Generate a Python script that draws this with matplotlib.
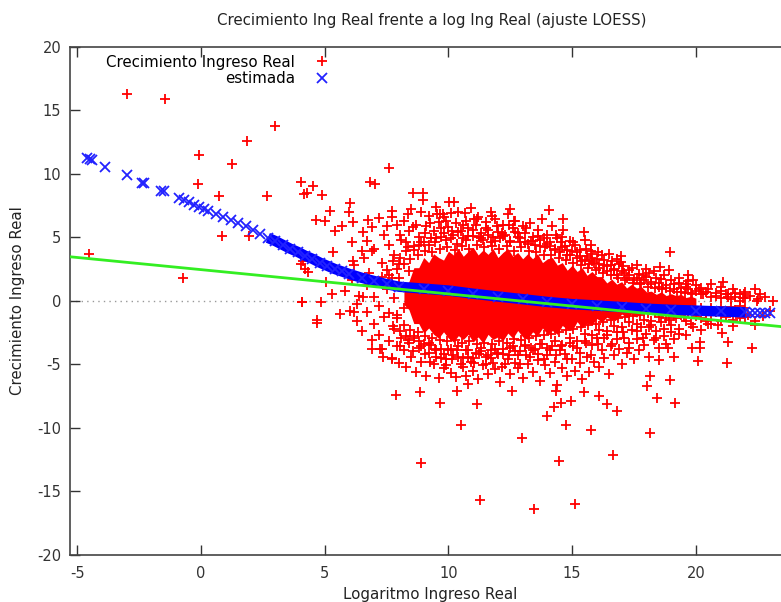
import matplotlib.pyplot as plt
import numpy as np

# observaciones aisladas (lejos de la nube)
red_far = [(-3.0, 16.3), (-1.46, 15.85), (3.0, 13.75), (1.87, 12.55), (-0.07, 11.45), (1.27, 10.75),
           (7.61, 10.45), (-0.11, 9.2), (4.03, 9.35), (4.15, 8.4), (4.28, 8.5), (4.54, 9.0), (0.74, 8.25),
           (2.68, 8.25), (4.9, 8.3), (6.83, 9.35), (7.05, 9.2), (6.02, 7.7), (5.97, 6.95), (5.21, 7.1),
           (4.65, 6.35), (5.02, 6.3), (0.85, 5.1), (1.95, 5.1), (-4.54, 3.65), (-0.74, 1.76), (4.11, 3.15),
           (4.06, 2.9), (4.34, 2.28), (4.08, -0.08), (4.84, -0.1), (4.68, -1.52), (4.69, -1.73), (5.62, -1.05),
           (7.88, -7.43), (6.91, -3.83), (7.23, -3.83), (7.37, -4.46), (7.7, -4.6), (8.85, -7.17), (9.66, -8.03),
           (10.5, -9.76), (8.9, -12.76), (11.28, -15.67), (12.96, -10.84), (13.46, -16.43), (14.46, -12.62),
           (15.12, -16.04), (14.75, -9.76), (13.97, -9.06), (14.27, -8.35), (14.56, -8.03), (14.94, -7.87),
           (11.17, -8.14), (10.33, -7.09), (10.8, -6.56), (12.56, -7.09), (14.35, -7.09), (15.76, -10.16),
           (16.65, -12.18), (18.15, -10.45), (19.16, -8.06), (18.43, -7.66), (16.8, -8.66), (16.42, -8.14),
           (16.09, -7.53), (15.48, -7.17), (18.01, -6.69), (18.96, -6.24), (18.15, -5.9), (20.08, -4.78),
           (21.27, -4.88), (22.26, -3.73), (21.05, -2.57), (21.31, -3.23), (20.17, -3.23), (20.17, -3.7),
           (19.83, -3.73), (19.12, -4.46), (18.5, -4.67), (18.86, -3.73), (18.96, 3.81), (19.7, 2.05),
           (19.7, 1.57), (21.11, 1.44), (21.79, 0.53), (21.95, 0.53), (22.6, 0.53), (22.46, 0.0), (21.31, 0.53),
           (20.13, 0.92), (20.5, -1.84), (8.56, 8.45), (8.96, 8.45), (8.96, 7.93), (10.04, 7.74), (10.23, 7.74),
           (12.49, 7.22), (10.67, 6.88), (8.38, 6.82), (9.66, 6.82), (7.71, 6.61), (11.75, 6.66), (12.65, 6.3),
           (11.14, 6.43), (14.08, 7.14), (14.64, 6.43), (14.64, 5.56), (15.48, 5.38), (15.75, 4.41),
           (15.75, 3.94), (16.5, 3.67), (16.96, 3.54), (16.96, 3.02), (18.0, 2.49), (18.55, 2.62), (9.55, 6.82),
           (9.79, 6.82), (5.42, 5.5), (5.69, 5.9), (6.13, 6.17), (6.76, 6.35), (6.56, 5.38), (6.09, 4.6),
           (6.7, 4.72), (6.9, 3.94), (6.5, 3.94), (6.16, 3.15), (5.35, 3.81), (4.2, 2.5), (5.05, 1.44),
           (5.28, 0.53), (6.02, -0.79), (6.29, -0.26), (6.56, 0.26), (4.07, -0.13), (5.8, 0.8), (6.1, 1.6),
           (6.4, 0.4), (6.7, 1.2), (7.0, 0.3), (7.3, 1.9), (6.2, -0.9), (7.5, 0.9), (7.2, -0.4),
           (7.8, 0.2), (8.0, 1.8), (8.2, -0.6), (8.4, 2.3), (7.9, -1.1), (8.3, 0.9)]

# nube por encima del nucleo
red_upper = [(6.2, 2.8), (6.4, 1.9), (6.6, 3.4), (6.8, 2.2), (7.0, 4.1), (7.1, 1.5), (7.3, 3.0), (7.4, 5.2),
             (7.5, 2.4), (7.6, 4.4), (7.7, 1.8), (7.8, 3.6), (7.9, 6.0), (8.0, 2.9), (6.9, 5.8), (7.2, 6.5),
             (7.5, 5.9), (7.7, 7.1), (8.1, 4.8), (8.2, 6.3), (8.3, 3.9), (8.4, 5.5), (8.5, 7.2), (8.6, 4.3),
             (8.7, 6.0), (8.8, 5.0), (8.9, 7.0), (9.0, 4.6), (9.1, 5.9), (9.2, 6.7), (9.3, 4.9), (9.4, 5.5),
             (9.5, 7.4), (9.6, 6.2), (9.7, 5.0), (9.8, 6.6), (9.9, 4.8), (10.0, 5.8), (10.1, 6.9), (10.2, 5.2),
             (10.3, 6.1), (10.4, 7.0), (10.5, 5.5), (10.6, 4.9), (10.7, 6.3), (10.8, 5.7), (10.9, 7.3),
             (11.0, 5.1), (11.1, 6.0), (11.2, 6.6), (11.3, 5.3), (11.4, 4.8), (11.5, 6.2), (11.6, 5.6),
             (11.7, 7.0), (11.8, 5.0), (11.9, 6.4), (12.0, 5.4), (12.1, 4.9), (12.2, 6.0), (12.3, 5.2),
             (12.4, 6.8), (12.5, 4.7), (12.6, 5.7), (12.7, 6.3), (12.8, 5.0), (12.9, 4.6), (13.0, 5.9),
             (13.1, 5.3), (13.2, 4.5), (13.3, 6.1), (13.4, 5.0), (13.5, 4.4), (13.6, 5.6), (13.7, 4.8),
             (13.8, 6.4), (13.9, 4.2), (14.0, 5.2), (14.1, 4.6), (14.2, 5.9), (14.3, 4.1), (14.4, 4.9),
             (14.5, 3.8), (14.6, 5.0), (14.7, 4.3), (14.8, 3.6), (14.9, 4.7), (15.0, 3.9), (15.1, 4.4),
             (15.2, 3.4), (15.3, 4.0), (15.4, 3.1), (15.5, 4.8), (15.6, 3.5), (15.7, 2.9), (15.8, 3.7),
             (15.9, 3.0), (16.0, 3.3), (16.1, 2.6), (16.2, 3.6), (16.3, 2.8), (16.4, 2.3), (16.6, 3.1),
             (16.7, 2.5), (16.8, 2.0), (16.9, 2.9), (17.1, 2.2), (17.2, 1.8), (17.4, 2.6), (17.5, 1.6),
             (17.7, 2.1), (17.8, 1.4), (18.0, 1.9), (18.2, 1.3), (18.3, 2.3), (18.5, 1.1), (18.6, 1.7),
             (18.8, 1.0), (18.9, 2.4), (19.1, 0.9), (19.3, 1.4), (19.4, 0.7), (19.6, 1.1), (19.8, 0.6),
             (20.0, 1.2), (20.3, 0.5), (20.5, 0.9), (20.8, 0.4), (21.0, 0.8), (21.3, 0.3), (21.6, 0.6),
             (21.9, 0.2), (22.2, 0.4), (22.5, 0.1), (22.8, 0.3), (23.1, 0.0),
             (8.05, 5.2), (8.3, 4.6), (8.55, 5.8), (8.8, 4.4), (9.05, 5.3), (9.25, 6.1), (9.45, 4.6), (9.7, 5.7),
             (9.9, 6.3), (10.15, 5.5), (10.35, 4.5), (10.6, 6.0), (10.8, 5.1), (11.05, 6.4), (11.25, 5.0),
             (11.5, 5.7), (11.7, 4.6), (11.95, 5.9), (12.15, 5.3), (12.45, 6.0), (12.7, 5.4), (12.9, 4.9),
             (13.15, 5.7), (13.35, 4.7), (13.6, 5.1), (13.85, 4.9), (14.1, 4.3), (14.35, 5.2), (14.55, 4.6),
             (14.8, 4.0), (15.05, 4.6), (15.3, 3.5), (15.55, 4.1), (15.75, 3.4), (16.05, 3.8), (16.3, 3.2),
             (16.55, 2.8), (16.8, 3.3), (17.05, 2.7), (17.3, 2.4), (17.6, 2.8), (17.85, 2.0), (18.1, 2.2),
             (18.4, 1.8), (18.7, 2.0), (19.0, 1.6), (19.3, 1.8), (19.6, 1.3), (19.9, 1.6), (20.2, 1.0),
             (20.6, 1.3), (21.0, 1.1), (21.5, 0.9), (22.0, 0.7), (22.4, 0.9)]

# borde superior del nucleo
red_edge_top = [(7.6, 2.0), (7.75, 3.1), (7.9, 2.5), (8.05, 3.4), (8.2, 2.9), (8.35, 4.2), (8.45, 3.3),
                (8.6, 4.0), (8.75, 3.6), (8.9, 4.6), (9.05, 3.9), (9.2, 4.4), (9.35, 3.8), (9.5, 4.9),
                (9.65, 4.1), (9.8, 5.3), (9.95, 4.2), (10.1, 4.9), (10.25, 4.0), (10.4, 5.4), (10.55, 4.3),
                (10.7, 4.8), (10.85, 4.1), (11.0, 5.6), (11.15, 4.4), (11.3, 4.9), (11.45, 4.2), (11.6, 5.2),
                (11.75, 4.3), (11.9, 4.7), (12.05, 4.1), (12.2, 5.1), (12.35, 4.3), (12.5, 4.6), (12.65, 3.9),
                (12.8, 5.3), (12.95, 4.2), (13.1, 4.6), (13.25, 3.9), (13.4, 4.7), (13.55, 3.8), (13.7, 4.3),
                (13.85, 3.6), (14.0, 4.5), (14.15, 3.6), (14.3, 4.0), (14.45, 3.4), (14.6, 4.2), (14.75, 3.2),
                (14.9, 3.6), (15.05, 3.0), (15.2, 3.8), (15.35, 2.8), (15.5, 3.2), (15.65, 2.6), (15.8, 3.1),
                (15.95, 2.4), (16.1, 2.9), (16.25, 2.2), (16.4, 2.7), (16.55, 2.0), (16.7, 2.4), (16.85, 1.8),
                (17.0, 2.3), (17.15, 1.6), (17.3, 2.0), (17.45, 1.4), (17.6, 1.8), (17.75, 1.3), (17.9, 1.6),
                (18.05, 1.1), (18.2, 1.5), (18.35, 1.0), (18.5, 1.4), (18.65, 0.9), (18.8, 1.2), (18.95, 0.8),
                (19.1, 1.3), (19.25, 0.7), (19.4, 1.0), (19.55, 0.6), (19.7, 0.9), (19.85, 0.5), (20.0, 0.8),
                (20.2, 0.5), (20.4, 0.7), (20.6, 0.3), (20.8, 0.6), (21.0, 0.2), (21.2, 0.5), (21.4, 0.1),
                (21.6, 0.3), (21.8, 0.0), (22.0, 0.2)]

# borde inferior del nucleo
red_edge_bot = [(7.6, -1.0), (7.75, -2.0), (7.9, -1.4), (8.05, -2.4), (8.2, -1.9), (8.35, -3.1), (8.45, -2.3),
                (8.6, -2.9), (8.75, -2.5), (8.9, -3.6), (9.05, -2.8), (9.2, -3.3), (9.35, -2.9), (9.5, -3.9),
                (9.65, -3.1), (9.8, -4.2), (9.95, -3.2), (10.1, -3.8), (10.25, -3.1), (10.4, -4.4),
                (10.55, -3.3), (10.7, -3.9), (10.85, -3.2), (11.0, -4.5), (11.15, -3.4), (11.3, -4.0),
                (11.45, -3.3), (11.6, -4.3), (11.75, -3.4), (11.9, -3.8), (12.05, -3.2), (12.2, -4.2),
                (12.35, -3.3), (12.5, -3.7), (12.65, -3.0), (12.8, -4.3), (12.95, -3.1), (13.1, -3.6),
                (13.25, -2.9), (13.4, -3.9), (13.55, -2.8), (13.7, -3.4), (13.85, -2.7), (14.0, -3.7),
                (14.15, -2.6), (14.3, -3.2), (14.45, -2.5), (14.6, -3.5), (14.75, -2.3), (14.9, -2.9),
                (15.05, -2.2), (15.2, -3.2), (15.35, -2.1), (15.5, -2.6), (15.65, -1.9), (15.8, -2.7),
                (15.95, -1.8), (16.1, -2.3), (16.25, -1.7), (16.4, -2.4), (16.55, -1.5), (16.7, -2.0),
                (16.85, -1.4), (17.0, -2.1), (17.15, -1.3), (17.3, -1.7), (17.45, -1.2), (17.6, -1.8),
                (17.75, -1.1), (17.9, -1.5), (18.05, -1.0), (18.2, -1.6), (18.35, -0.9), (18.5, -1.3),
                (18.65, -0.9), (18.8, -1.4), (18.95, -0.8), (19.1, -1.2), (19.25, -0.8), (19.4, -1.1),
                (19.55, -0.7), (19.7, -1.0), (19.85, -0.7), (20.0, -1.0), (20.2, -0.6), (20.4, -0.9),
                (20.6, -0.6), (20.8, -0.9), (21.0, -0.5), (21.2, -0.8), (21.4, -0.5), (21.6, -0.7),
                (21.8, -0.4), (22.0, -0.6)]

# nube por debajo del nucleo
red_lower = [(6.3, -1.6), (6.5, -2.4), (6.7, -0.9), (6.9, -3.1), (7.0, -1.8), (7.2, -2.7), (7.3, -3.8),
             (7.4, -1.3), (7.6, -3.2), (7.7, -4.5), (7.8, -2.2), (7.9, -3.6), (8.0, -4.9), (8.1, -2.9),
             (8.2, -3.9), (8.3, -5.2), (8.4, -3.3), (8.5, -4.4), (8.6, -2.8), (8.7, -5.6), (8.8, -3.7),
             (8.9, -4.8), (9.0, -3.4), (9.1, -5.9), (9.2, -4.1), (9.3, -3.5), (9.4, -5.0), (9.5, -4.4),
             (9.6, -6.1), (9.7, -3.8), (9.8, -5.3), (9.9, -4.6), (10.0, -3.9), (10.1, -5.7), (10.2, -4.3),
             (10.3, -6.0), (10.4, -3.6), (10.5, -5.0), (10.6, -4.5), (10.7, -5.9), (10.8, -3.9), (10.9, -4.8),
             (11.0, -5.5), (11.1, -4.1), (11.2, -6.2), (11.3, -3.7), (11.4, -5.1), (11.5, -4.4), (11.6, -5.8),
             (11.7, -3.9), (11.8, -4.9), (11.9, -5.4), (12.0, -4.2), (12.1, -6.4), (12.2, -3.8), (12.3, -5.0),
             (12.4, -4.6), (12.5, -5.8), (12.6, -3.6), (12.7, -4.9), (12.8, -5.3), (12.9, -4.0), (13.0, -6.1),
             (13.1, -3.5), (13.2, -5.0), (13.3, -4.4), (13.4, -5.6), (13.5, -3.8), (13.6, -4.7), (13.7, -6.3),
             (13.8, -3.4), (13.9, -5.1), (14.0, -4.3), (14.1, -5.7), (14.2, -3.6), (14.3, -4.8), (14.4, -6.6),
             (14.5, -3.9), (14.6, -5.3), (14.7, -4.2), (14.8, -5.9), (14.9, -3.3), (15.0, -4.6), (15.1, -5.5),
             (15.2, -3.7), (15.3, -4.9), (15.4, -6.2), (15.5, -3.2), (15.6, -4.4), (15.7, -5.6), (15.8, -3.5),
             (15.9, -4.8), (16.0, -2.9), (16.1, -5.2), (16.2, -3.9), (16.3, -4.5), (16.4, -2.7), (16.5, -5.8),
             (16.6, -3.4), (16.7, -4.3), (16.8, -2.5), (16.9, -3.8), (17.0, -5.0), (17.1, -2.9), (17.2, -4.1),
             (17.3, -3.3), (17.4, -2.3), (17.5, -4.6), (17.6, -3.0), (17.7, -3.9), (17.8, -2.1), (17.9, -3.5),
             (18.0, -2.6), (18.1, -4.4), (18.2, -1.9), (18.3, -3.1), (18.4, -2.4), (18.5, -3.7), (18.6, -1.7),
             (18.7, -2.8), (18.8, -3.4), (18.9, -1.5), (19.0, -2.5), (19.1, -3.0), (19.2, -1.4), (19.3, -2.2),
             (19.5, -1.3), (19.6, -2.7), (19.8, -1.8), (20.0, -1.2), (20.2, -2.3), (20.4, -1.6), (20.6, -1.1),
             (20.9, -1.9), (21.2, -1.3), (21.5, -2.0), (21.8, -1.4), (22.1, -1.1), (22.4, -1.6), (22.7, -1.2),
             (23.0, -0.8),
             (8.05, -3.6), (8.3, -2.8), (8.55, -4.0), (8.8, -3.2), (9.05, -4.2), (9.25, -4.8), (9.45, -3.8),
             (9.7, -4.5), (9.9, -5.1), (10.15, -4.6), (10.35, -3.9), (10.6, -5.2), (10.8, -4.4), (11.05, -4.9),
             (11.25, -4.2), (11.5, -5.0), (11.7, -4.5), (11.95, -4.1), (12.15, -5.2), (12.45, -4.3),
             (12.7, -4.0), (12.9, -5.0), (13.15, -4.3), (13.35, -3.7), (13.6, -4.2), (13.85, -4.6),
             (14.1, -3.9), (14.35, -4.3), (14.55, -3.6), (14.8, -4.6), (15.05, -3.6), (15.3, -4.1),
             (15.55, -3.3), (15.75, -4.3), (16.05, -3.4), (16.3, -2.9), (16.55, -3.6), (16.8, -3.0),
             (17.05, -2.5), (17.3, -3.7), (17.6, -2.4), (17.85, -2.9), (18.1, -2.1), (18.4, -2.9), (18.7, -2.2),
             (19.0, -1.9), (19.3, -2.6), (19.6, -1.6), (19.9, -2.1), (20.2, -1.4), (20.6, -1.8), (21.0, -1.6),
             (21.5, -1.5), (22.0, -1.3), (22.4, -1.9)]

# nucleo denso de la nube (zona totalmente roja), leido por columnas
core_x = [8.2, 8.4, 8.6, 8.8, 9.0, 9.2, 9.4, 9.6, 9.8, 10.0,
          10.2, 10.4, 10.6, 10.8, 11.0, 11.2, 11.4, 11.6, 11.8, 12.0,
          12.2, 12.4, 12.6, 12.8, 13.0, 13.2, 13.4, 13.6, 13.8, 14.0,
          14.2, 14.4, 14.6, 14.8, 15.0, 15.2, 15.4, 15.6, 15.8, 16.0,
          16.2, 16.4, 16.6, 16.8, 17.0, 17.2, 17.4, 17.6, 17.8, 18.0,
          18.2, 18.4, 18.6, 18.8, 19.0, 19.2, 19.4, 19.6, 19.8, 20.0]
core_top = [1.2, 1.5, 2.6, 2.6, 3.4, 3.0, 3.7, 3.4, 3.2, 3.9,
            3.6, 4.1, 3.5, 3.9, 4.2, 3.6, 4.0, 3.65, 4.1, 3.4,
            3.8, 4.1, 3.5, 3.8, 3.3, 3.7, 3.3, 3.7, 3.0, 3.3,
            3.4, 2.8, 3.0, 2.4, 2.8, 2.3, 2.6, 2.0, 2.3, 1.9,
            1.9, 1.4, 1.7, 1.3, 1.5, 1.0, 1.3, 1.0, 1.1, 0.7,
            0.75, 0.5, 0.7, 0.4, 0.55, 0.4, 0.5, 0.25, 0.35, 0.2]
core_bot = [-0.3, -0.7, -1.8, -1.8, -2.55, -2.15, -2.65, -2.95, -2.45, -2.95,
            -3.25, -2.75, -3.05, -2.65, -3.25, -2.85, -3.35, -2.65, -3.05, -2.85,
            -3.15, -2.55, -2.95, -2.35, -2.85, -3.05, -2.45, -2.75, -2.15, -2.65,
            -2.35, -2.65, -1.95, -2.25, -2.35, -1.65, -2.15, -1.75, -1.9, -1.4,
            -1.7, -1.3, -1.5, -1.5, -1.05, -1.3, -1.05, -1.3, -0.9, -1.0,
            -0.75, -0.9, -0.6, -0.75, -0.6, -0.75, -0.5, -0.6, -0.5, -0.4]

# ajuste LOESS
loess_x = [-4.6, -4.5, -4.4, -3.9, -3.0, -2.4, -2.3, -1.6, -1.5, -0.9, -0.7, -0.5, -0.3, -0.1, 0.1, 0.3,
           0.6, 0.9, 1.2, 1.5, 1.8, 2.1, 2.4, 2.7, 3.0, 3.3, 3.6, 3.9, 4.2, 4.5, 4.8, 5.1, 5.4, 5.7, 6.0,
           6.5, 7.0, 7.5, 8.0, 9.0, 10.0, 11.0, 12.0, 13.0, 14.0, 15.0, 16.0, 17.0, 18.0, 19.0, 20.0,
           21.0, 22.0, 22.2, 22.4, 22.6, 22.8, 23.0]
loess_y = [11.2, 11.15, 11.1, 10.55, 9.9, 9.3, 9.25, 8.65, 8.6, 8.05, 7.9, 7.75, 7.55, 7.4, 7.25, 7.1,
           6.85, 6.6, 6.35, 6.1, 5.85, 5.55, 5.25, 4.95, 4.7, 4.4, 4.1, 3.85, 3.55, 3.3, 3.0, 2.75, 2.5,
           2.3, 2.1, 1.8, 1.55, 1.3, 1.1, 0.95, 0.8, 0.55, 0.33, 0.12, -0.1, -0.27, -0.38, -0.5, -0.63,
           -0.72, -0.78, -0.85, -0.92, -0.93, -0.94, -0.96, -0.97, -0.99]

# recta MCO
ols_x = [-5.3, 23.5]
ols_y = [3.46, -2.05]

plt.rcParams['font.family'] = ['DejaVu Sans']
plt.rcParams['axes.unicode_minus'] = False
fig = plt.figure(figsize=(7.81, 6.02), dpi=100)
ax = fig.add_axes([0.0892, 0.0786, 0.9108, 0.8438])

red = np.array(red_far + red_upper + red_edge_top + red_edge_bot + red_lower)
ax.axhline(0, color='#999999', lw=1, ls=(0, (1, 3)), zorder=1)
ax.fill_between(core_x, core_bot, core_top, color='#ff0000', lw=0, zorder=2)
ax.plot(red[:, 0], red[:, 1], ls='none', marker='+', ms=7, mew=1.3, color='#ff0000', zorder=2,
        label='Crecimiento Ingreso Real')

lx = np.array(loess_x)
ly = np.array(loess_y)
dense = (lx >= 2.5) & (lx <= 22.0)
ax.plot(lx[dense], ly[dense], color='#0000ff', lw=7.5, solid_capstyle='butt', zorder=3)
ax.plot(lx, ly, ls='none', marker='x', ms=6.5, mew=1.3, color='#2222ff', zorder=3, label='estimada')
ax.plot(ols_x, ols_y, color='#33ee22', lw=2, zorder=4)

ax.set_xlim(-5.31, 23.44)
ax.set_ylim(-20, 20)
ax.set_xticks([-5, 0, 5, 10, 15, 20])
ax.set_yticks([-20, -15, -10, -5, 0, 5, 10, 15, 20])
ax.tick_params(direction='in', length=7, width=1, colors='#333333', labelsize=10.5,
               top=True, right=False, pad=6)
ax.tick_params(axis='x', pad=8)
for s in ['left', 'bottom', 'top']:
    ax.spines[s].set_color('#444444')
    ax.spines[s].set_linewidth(1.2)
ax.spines['right'].set_visible(False)

fig.text(432 / 781, 1 - 20 / 602, 'Crecimiento Ing Real frente a log Ing Real (ajuste LOESS)',
         ha='center', va='center', fontsize=10.8, color='#222222')
fig.text(430 / 781, 1 - 594 / 602, 'Logaritmo Ingreso Real', ha='center', va='center',
         fontsize=10.8, color='#222222')
fig.text(18 / 781, 0.5, 'Crecimiento Ingreso Real', ha='center', va='center', rotation=90,
         fontsize=10.8, color='#222222')

ax.legend(loc='upper left', bbox_to_anchor=(0.036, 1.005), frameon=False, markerfirst=False,
          fontsize=10.8, handlelength=1.0, handletextpad=1.3, labelspacing=0.1, borderaxespad=0.3)

fig.savefig('out.png', dpi=100)
